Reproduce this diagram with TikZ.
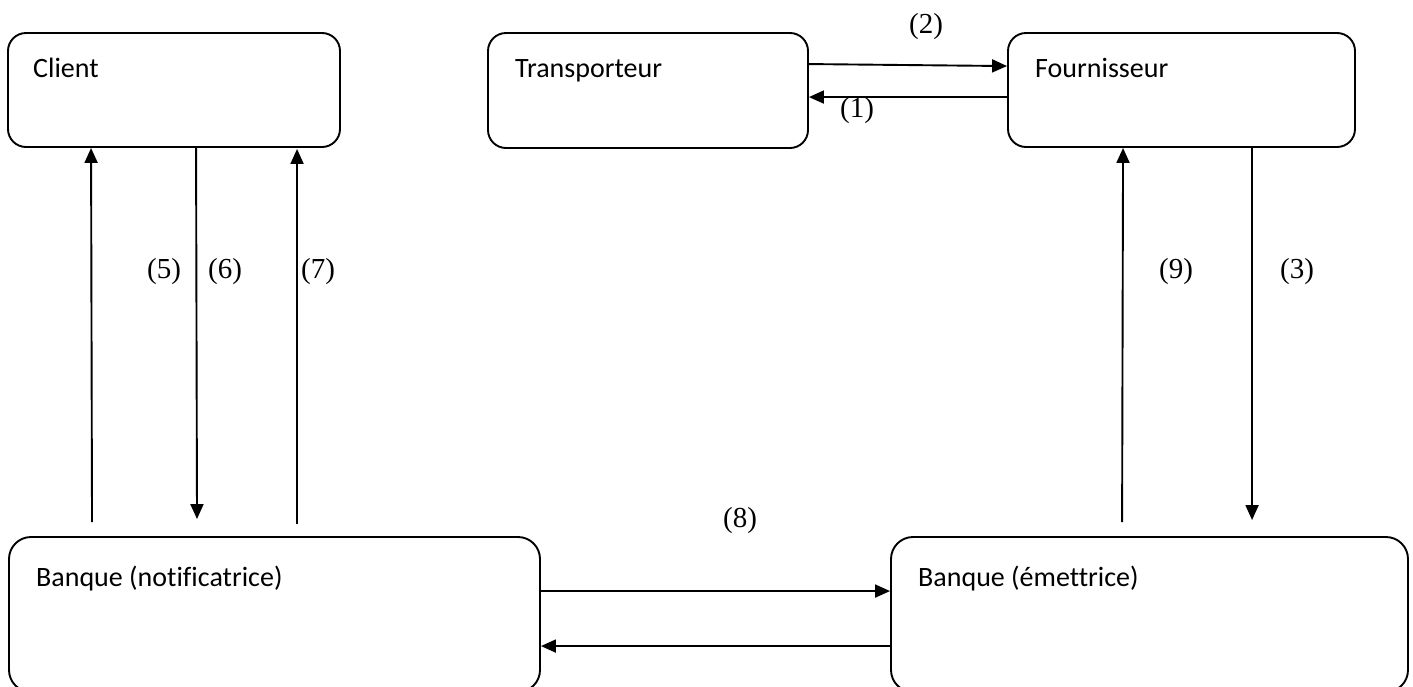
\documentclass[tikz,border=0pt]{standalone}
\usepackage{fontspec}
\usetikzlibrary{arrows.meta}
\newfontfamily\boxfont[Ligatures=NoCommon]{Carlito}
\newfontfamily\numfont{Liberation Serif}
\begin{document}
\begin{tikzpicture}[x=1pt,y=-1pt,
  party/.style={draw=black, line width=1.9pt, rounded corners=18pt, inner sep=0pt, fill=none},
  bank/.style={party, rounded corners=22pt},
  title/.style={inner sep=0pt, anchor=base west, font=\boxfont\fontsize{28}{34}\selectfont},
  num/.style={inner sep=0pt, anchor=base, font=\numfont\fontsize{29}{35}\selectfont},
  flow/.style={draw=black, line width=1.9pt, -{Triangle[length=15pt,width=13pt]}}
]
\useasboundingbox (0,0) rectangle (1413,686);
\clip (0,0) rectangle (1413,686);
\fill[white] (0,0) rectangle (1413,686);

% parties
\node[party, minimum width=332pt, minimum height=114pt] (client) at (174,90) {};
\node[party, minimum width=320pt, minimum height=115pt] (trans) at (648,90.5) {};
\node[party, minimum width=347pt, minimum height=114pt] (four) at (1181.5,90) {};
\node[bank, minimum width=531pt, minimum height=155pt] (bn) at (274.5,614.5) {};
\node[bank, minimum width=517pt, minimum height=155pt] (be) at (1149.5,614.5) {};

% titles
\node[title] (clientT) at (33,77) {Client};
\node[title] (transT) at (515,77) {Transporteur};
\node[title] (fourT) at (1035,77) {Fournisseur};
\node[title] (bnT) at (36,586) {Banque (notificatrice)};
\node[title] (beT) at (918,586) {Banque (émettrice)};

% transporteur <-> fournisseur
\draw[flow] ([yshift=-32pt]trans.north east) -- ([yshift=-34pt]four.north west);
\draw[flow] ([yshift=-65pt]four.north west) -- ([yshift=-65pt]trans.north east);

% client <-> banque notificatrice
\draw[flow, shorten <=14pt] ([xshift=84pt]bn.north west) -- ([xshift=84pt]client.south west);
\draw[flow, shorten >=17pt] ([xshift=189pt]client.south west) -- ([xshift=189pt]bn.north west);
\draw[flow, shorten <=12pt, shorten >=1pt] ([xshift=289pt]bn.north west) -- ([xshift=290pt]client.south west);

% fournisseur <-> banque emettrice
\draw[flow, shorten <=14pt] ([xshift=232pt]be.north west) -- ([xshift=116pt]four.south west);
\draw[flow, shorten >=16pt] ([xshift=245pt]four.south west) -- ([xshift=362pt]be.north west);

% banque <-> banque
\draw[flow] ([yshift=-55pt]bn.north east) -- ([yshift=-55pt]be.north west);
\draw[flow] ([yshift=-110pt]be.north west) -- ([yshift=-110pt]bn.north east);

% step numbers
\node[num] (n1) at (857,117) {(1)};
\node[num] (n2) at (926,33) {(2)};
\node[num] (n3) at (1297,278) {(3)};
\node[num] (n5) at (164,278) {(5)};
\node[num] (n6) at (225,278) {(6)};
\node[num] (n7) at (318,278) {(7)};
\node[num] (n8) at (740,527) {(8)};
\node[num] (n9) at (1176,278) {(9)};
\end{tikzpicture}
\end{document}
